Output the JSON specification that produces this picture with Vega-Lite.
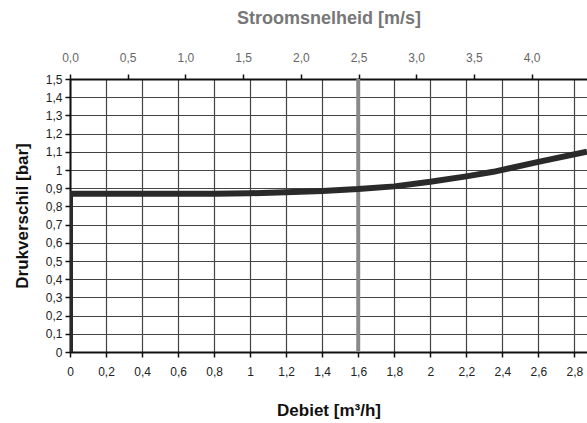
{
  "$schema": "https://vega.github.io/schema/vega-lite/v6.json",
  "width": 517,
  "height": 273,
  "autosize": "none",
  "padding": {"left": 70, "top": 79, "right": 0, "bottom": 71},
  "config": {
    "font": "Liberation Sans",
    "view": {"stroke": null},
    "axis": {
      "labelFont": "Liberation Sans",
      "titleFont": "Liberation Sans",
      "labelFontSize": 12,
      "labelColor": "#222",
      "labelOverlap": false,
      "labelFlush": false,
      "domainColor": "#111",
      "domainWidth": 2,
      "tickColor": "#111",
      "tickWidth": 1.5,
      "gridColor": "#444",
      "gridWidth": 1.2,
      "gridOpacity": 1
    }
  },
  "layer": [
    {
      "layer": [
        {
          "data": {"values": [{"debiet": 1.6}]},
          "mark": {"type": "rule", "color": "#8a8a8a", "strokeWidth": 4},
          "encoding": {"x": {"field": "debiet", "type": "quantitative"}}
        },
        {
          "data": {
            "values": [
              {"debiet": 0, "drukverschil": 0},
              {"debiet": 0, "drukverschil": 0.87},
              {"debiet": 0.2, "drukverschil": 0.87},
              {"debiet": 0.4, "drukverschil": 0.87},
              {"debiet": 0.6, "drukverschil": 0.87},
              {"debiet": 0.8, "drukverschil": 0.87},
              {"debiet": 1.0, "drukverschil": 0.872},
              {"debiet": 1.2, "drukverschil": 0.878},
              {"debiet": 1.4, "drukverschil": 0.885},
              {"debiet": 1.6, "drukverschil": 0.895},
              {"debiet": 1.8, "drukverschil": 0.91},
              {"debiet": 2.0, "drukverschil": 0.935},
              {"debiet": 2.2, "drukverschil": 0.965},
              {"debiet": 2.35, "drukverschil": 0.99},
              {"debiet": 2.6, "drukverschil": 1.045},
              {"debiet": 2.87, "drukverschil": 1.1}
            ]
          },
          "mark": {"type": "line", "color": "#2a2a2a", "strokeWidth": 6, "strokeJoin": "round", "clip": true},
          "encoding": {
            "x": {
              "field": "debiet",
              "type": "quantitative",
              "scale": {"domain": [0, 2.87], "nice": false},
              "axis": {
                "orient": "bottom",
                "title": "Debiet [m³/h]",
                "titleFontSize": 17,
                "titleFontWeight": "bold",
                "titleColor": "#111",
                "titlePadding": 25,
                "values": [0, 0.2, 0.4, 0.6, 0.8, 1, 1.2, 1.4, 1.6, 1.8, 2, 2.2, 2.4, 2.6, 2.8],
                "tickCount": 40,
                "labelExpr": "replace(format(datum.value, '.1~f'), '.', ',')",
                "labelPadding": 9,
                "tickSize": 5,
                "grid": true
              }
            },
            "y": {
              "field": "drukverschil",
              "type": "quantitative",
              "scale": {"domain": [0, 1.5], "nice": false},
              "axis": {
                "title": "Drukverschil [bar]",
                "titleFontSize": 17,
                "titleFontWeight": "bold",
                "titleColor": "#111",
                "titlePadding": 14,
                "values": [0, 0.1, 0.2, 0.3, 0.4, 0.5, 0.6, 0.7, 0.8, 0.9, 1, 1.1, 1.2, 1.3, 1.4, 1.5],
                "tickCount": 40,
                "labelExpr": "replace(format(datum.value, '.1~f'), '.', ',')",
                "labelPadding": 3,
                "tickSize": 5,
                "grid": true
              }
            }
          }
        }
      ]
    },
    {
      "data": {"values": [{"snelheid": 0}, {"snelheid": 4.48}]},
      "mark": {"type": "point", "opacity": 0},
      "encoding": {
        "x": {
          "field": "snelheid",
          "type": "quantitative",
          "scale": {"domain": [0, 4.48], "nice": false},
          "axis": {
            "orient": "top",
            "title": "Stroomsnelheid [m/s]",
            "titleFontSize": 18,
            "titleFontWeight": "bold",
            "titleColor": "#777",
            "titlePadding": 24,
            "labelColor": "#666",
            "values": [0, 0.5, 1, 1.5, 2, 2.5, 3, 3.5, 4],
            "tickCount": 40,
            "labelExpr": "replace(format(datum.value, '.1f'), '.', ',')",
            "labelPadding": 10,
            "tickSize": 5,
            "grid": false
          }
        }
      }
    }
  ],
  "resolve": {"scale": {"x": "independent"}, "axis": {"x": "independent"}}
}
